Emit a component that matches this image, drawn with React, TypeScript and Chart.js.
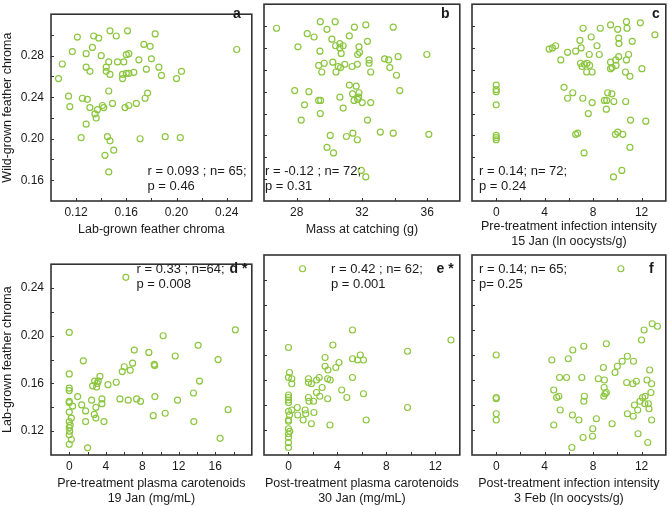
import React, { useEffect, useRef } from 'react';
import { Chart, registerables } from 'chart.js';
Chart.register(...registerables);

// ---------- data ----------
const aX = [0.147,0.161,0.183,0.121,0.134,0.138,0.152,0.174,0.179,0.133,0.117,0.128,0.140,0.160,0.162,0.170,0.180,0.109,0.146,0.153,0.158,0.144,0.128,0.131,0.144,0.147,0.157,0.160,0.162,0.166,0.157,0.176,0.186,0.188,0.200,0.204,0.106,0.114,0.115,0.125,0.129,0.131,0.135,0.136,0.137,0.141,0.142,0.146,0.149,0.159,0.162,0.168,0.175,0.177,0.128,0.124,0.145,0.147,0.171,0.191,0.203,0.150,0.143,0.146,0.248];
const aY = [0.304,0.304,0.301,0.298,0.299,0.297,0.299,0.291,0.289,0.288,0.284,0.282,0.280,0.281,0.282,0.276,0.277,0.272,0.274,0.274,0.274,0.269,0.269,0.265,0.265,0.262,0.262,0.263,0.263,0.264,0.258,0.267,0.269,0.261,0.258,0.265,0.258,0.241,0.231,0.239,0.238,0.230,0.224,0.220,0.228,0.232,0.230,0.246,0.234,0.230,0.232,0.234,0.239,0.244,0.214,0.201,0.202,0.198,0.200,0.202,0.201,0.189,0.184,0.168,0.286];

const bX = [26.77,29.45,30.36,29.86,31.54,32.24,33.92,28.65,29.07,30.16,31.23,32.34,28.08,30.39,30.65,30.85,30.65,31.82,29.43,30.73,31.74,31.86,35.98,34.22,32.44,33.39,33.64,29.35,29.69,30.22,30.55,30.69,30.95,30.41,29.54,31.72,32.44,32.54,33.71,34.12,27.88,28.75,31.23,31.65,31.82,34.32,28.48,29.35,29.47,30.65,31.43,31.52,31.74,31.80,32.02,32.54,30.85,29.45,28.28,32.34,30.06,31.05,31.45,31.72,33.13,33.92,36.10,29.86,30.26,31.96,32.24,31.40];
const bY = [0.298,0.304,0.304,0.297,0.299,0.301,0.299,0.293,0.290,0.288,0.291,0.286,0.281,0.282,0.284,0.282,0.280,0.281,0.277,0.275,0.274,0.276,0.274,0.272,0.269,0.270,0.269,0.264,0.266,0.267,0.263,0.262,0.265,0.258,0.258,0.265,0.266,0.258,0.262,0.255,0.241,0.240,0.246,0.245,0.239,0.241,0.228,0.232,0.232,0.235,0.238,0.232,0.233,0.235,0.230,0.230,0.225,0.220,0.214,0.214,0.200,0.199,0.202,0.196,0.203,0.202,0.201,0.189,0.184,0.168,0.162,0.263];

const cX = [0,0,0,0,0,0,0,7.17,8.59,9.44,10.03,10.75,10.80,11.90,13.10,6.91,7.84,10.11,10.13,11.23,4.37,4.64,4.91,5.89,6.56,7.01,7.68,8.32,8.51,5.33,6.96,7.09,7.28,7.49,7.71,7.47,7.92,9.44,9.87,10.11,9.89,9.57,9.44,10.75,10.93,10.67,11.04,12.03,5.60,6.32,5.89,7.15,7.92,7.60,9.20,9.55,8.93,9.12,9.71,9.09,10.69,11.09,12.35,6.56,6.72,9.84,10.03,10.45,11.04,7.25,10.37,9.68];
const cY = [0.246,0.242,0.240,0.228,0.200,0.198,0.196,0.298,0.298,0.301,0.297,0.304,0.298,0.303,0.292,0.287,0.290,0.289,0.284,0.286,0.279,0.280,0.282,0.276,0.277,0.280,0.274,0.282,0.274,0.269,0.266,0.263,0.265,0.266,0.264,0.258,0.258,0.267,0.269,0.272,0.264,0.262,0.261,0.269,0.274,0.258,0.254,0.261,0.244,0.239,0.234,0.234,0.230,0.220,0.239,0.238,0.232,0.232,0.231,0.224,0.231,0.214,0.213,0.201,0.202,0.201,0.203,0.201,0.189,0.184,0.168,0.162];

const dX = [0,0,0,0,0,0,0.37,0,0.23,0,0.1,0,0,0.23,0,2.01,0.92,1.54,1.36,1.79,1.79,2.45,2.56,2.74,2.92,2.92,2.78,3.0,3.07,3.18,3.36,3.58,3.58,3.80,4.24,5.15,5.55,5.81,6.03,6.68,6.94,7.12,6.46,7.38,7.81,8.72,9.20,9.38,9.31,9.36,10.29,10.51,11.61,11.86,13.61,13.65,14.12,14.27,16.31,16.53,17.41,18.2,6.2,0.05];
const dY = [0.2028,0.168,0.156,0.154,0.145,0.144,0.141,0.136,0.131,0.128,0.125,0.123,0.117,0.113,0.109,0.106,0.149,0.179,0.142,0.137,0.128,0.146,0.158,0.134,0.140,0.131,0.162,0.157,0.160,0.162,0.166,0.147,0.143,0.128,0.159,0.161,0.147,0.170,0.174,0.171,0.177,0.188,0.146,0.147,0.145,0.186,0.133,0.149,0.176,0.175,0.200,0.135,0.183,0.146,0.152,0.128,0.192,0.162,0.180,0.114,0.138,0.205,0.249,0.120];

const eX = [1.15,0,0.08,0,0.27,0.27,0,0,0,0,0.27,0.08,0,0,0,0,0,0,0,0.72,0.75,1.2,1.36,1.41,1.63,1.63,1.87,1.63,1.68,2.05,2.08,1.87,2.29,2.51,2.56,2.75,2.99,2.99,3.23,3.20,3.41,3.20,3.39,3.63,3.87,4.13,4.35,4.77,5.23,5.23,5.23,5.65,5.87,6.13,6.13,6.35,9.73,9.73,13.28,0,0.1,2.3];
const eY = [0.249,0.186,0.166,0.162,0.161,0.157,0.148,0.146,0.144,0.142,0.136,0.132,0.128,0.127,0.121,0.117,0.114,0.110,0.106,0.138,0.132,0.128,0.136,0.133,0.161,0.158,0.157,0.146,0.143,0.143,0.134,0.125,0.150,0.162,0.147,0.154,0.178,0.171,0.168,0.161,0.160,0.145,0.124,0.188,0.170,0.174,0.152,0.146,0.200,0.162,0.177,0.176,0.180,0.176,0.149,0.128,0.183,0.138,0.192,0.135,0.119,0.160];

const fX = [10.29,0,0,0,0,0,12.88,13.31,12.21,12.0,9.09,7.23,6.32,4.59,5.95,10.83,10.40,11.33,10.0,9.81,8.85,12.67,5.23,5.81,7.07,8.43,8.93,10.77,11.28,11.57,12.45,12.83,8.91,4.75,4.99,5.17,7.28,7.23,8.99,9.09,8.88,12.77,5.28,6.29,6.83,8.27,9.57,4.75,10.83,11.31,11.41,11.68,11.87,12.08,12.29,12.27,12.56,12.61,12.83,7.97,7.95,7.17,6.24,11.71,12.51];
const fY = [0.249,0.180,0.146,0.145,0.133,0.128,0.205,0.203,0.200,0.192,0.189,0.187,0.184,0.176,0.177,0.179,0.175,0.175,0.171,0.166,0.170,0.168,0.162,0.162,0.162,0.161,0.160,0.158,0.157,0.159,0.160,0.157,0.154,0.152,0.146,0.147,0.147,0.143,0.149,0.150,0.147,0.150,0.136,0.132,0.128,0.129,0.125,0.124,0.133,0.131,0.140,0.136,0.143,0.146,0.147,0.141,0.141,0.137,0.128,0.121,0.115,0.114,0.106,0.117,0.110];

// ---------- ticks ----------
const topYTicks = [0.16, 0.18, 0.20, 0.22, 0.24, 0.26, 0.28, 0.30];
const topYLabels = [0.16, 0.20, 0.24, 0.28];
const botYTicks = [0.12, 0.14, 0.16, 0.18, 0.20, 0.22, 0.24];
const botYLabels = [0.12, 0.16, 0.20, 0.24];
const aXTicks = [0.12, 0.14, 0.16, 0.18, 0.20, 0.22, 0.24];
const aXLabels = [0.12, 0.16, 0.20, 0.24];
const bXTicks = [28, 30, 32, 34, 36];
const bXLabels = [28, 32, 36];
const lnXTicks = [0, 2, 4, 6, 8, 10, 12];
const lnXLabels = [0, 4, 8, 12];
const dXTicks = [0, 2, 4, 6, 8, 10, 12, 14, 16, 18];
const dXLabels = [0, 4, 8, 12, 16];

// ---------- text ----------
const yTitleTop = 'Wild-grown feather chroma';
const yTitleBot = 'Lab-grown feather chroma';
const xTitles = {
  a: 'Lab-grown feather chroma',
  b: 'Mass at catching (g)',
  c: ['Pre-treatment infection intensity', '15 Jan (ln oocysts/g)'],
  d: ['Pre-treatment plasma carotenoids', '19 Jan (mg/mL)'],
  e: ['Post-treatment plasma carotenoids', '30 Jan (mg/mL)'],
  f: ['Post-treatment infection intensity', '3 Feb (ln oocysts/g)'],
};
const stats = {
  a: ['r = 0.093 ; n= 65;', 'p = 0.46'],
  b: ['r = -0.12 ; n= 72;', 'p = 0.31'],
  c: ['r = 0.14; n= 72;', 'p = 0.24'],
  d: ['r = 0.33 ; n=64;', 'p = 0.008'],
  e: ['r = 0.42 ; n= 62;', 'p = 0.001'],
  f: ['r = 0.14; n= 65;', 'p= 0.25'],
};
const letters = { a: 'a', b: 'b', c: 'c', d: 'd *', e: 'e *', f: 'f' };

const GREEN = '#8cc63f';
const TXT = '#1a1a1a';
const FRAME = '#333333';
const FONT = "'Liberation Sans', Arial, Helvetica, sans-serif";

type P = {
  key: string; cell: number[]; area: number[]; xs: number[]; ys: number[];
  xr: number[]; yr: number[]; xt: number[]; xl: number[]; yt: number[]; yl: number[];
  xd: number; showY: boolean; yTitle: string; xTitle: string | string[]; tPad: number;
  statPos: number[]; letterPos: number[];
};

const panels: P[] = [
  { key: 'a', cell: [0, 0, 256, 250], area: [51, 2, 252, 201], xs: aX, ys: aY, xr: [0.10, 0.26], yr: [0.14, 0.32], xt: aXTicks, xl: aXLabels, yt: topYTicks, yl: topYLabels, xd: 2, showY: true, yTitle: yTitleTop, xTitle: xTitles.a, tPad: 13, statPos: [147.5, 171, 186], letterPos: [233, 14] },
  { key: 'b', cell: [256, 0, 464, 250], area: [260, 2, 460, 201], xs: bX, ys: bY, xr: [26, 38], yr: [0.14, 0.32], xt: bXTicks, xl: bXLabels, yt: topYTicks, yl: topYLabels, xd: 0, showY: false, yTitle: '', xTitle: xTitles.b, tPad: 13, statPos: [265, 171, 186], letterPos: [441, 14] },
  { key: 'c', cell: [464, 0, 670, 250], area: [468, 2, 668, 201], xs: cX, ys: cY, xr: [-2, 14], yr: [0.14, 0.32], xt: lnXTicks, xl: lnXLabels, yt: topYTicks, yl: topYLabels, xd: 0, showY: false, yTitle: '', xTitle: xTitles.c, tPad: 1, statPos: [479, 171, 186], letterPos: [652, 14] },
  { key: 'd', cell: [0, 250, 256, 506], area: [51, 255, 252, 455], xs: dX, ys: dY, xr: [-2, 20], yr: [0.10, 0.26], xt: dXTicks, xl: dXLabels, yt: botYTicks, yl: botYLabels, xd: 0, showY: true, yTitle: yTitleBot, xTitle: xTitles.d, tPad: 0, statPos: [136.5, 269, 284], letterPos: [229.5, 269] },
  { key: 'e', cell: [256, 250, 464, 506], area: [260, 255, 460, 455], xs: eX, ys: eY, xr: [-2, 14], yr: [0.10, 0.26], xt: lnXTicks, xl: lnXLabels, yt: botYTicks, yl: botYLabels, xd: 0, showY: false, yTitle: '', xTitle: xTitles.e, tPad: 0, statPos: [331, 269, 284], letterPos: [436.5, 269] },
  { key: 'f', cell: [464, 250, 670, 506], area: [468, 255, 668, 455], xs: fX, ys: fY, xr: [-2, 14], yr: [0.10, 0.26], xt: lnXTicks, xl: lnXLabels, yt: botYTicks, yl: botYLabels, xd: 0, showY: false, yTitle: '', xTitle: xTitles.f, tPad: 0, statPos: [479, 269, 284], letterPos: [649, 269] },
];

function framePlugin(p: P) {
  return {
    id: 'frame_' + p.key,
    afterDraw(chart: any) {
      const ctx = chart.ctx;
      const ca = chart.chartArea;
      const xs = chart.scales.x;
      const ys = chart.scales.y;
      const ox = p.cell[0], oy = p.cell[1];
      ctx.save();
      ctx.strokeStyle = FRAME;
      ctx.lineWidth = 1;
      ctx.beginPath();
      for (const v of p.xt) {
        const px = Math.round(xs.getPixelForValue(v)) + 0.5;
        ctx.moveTo(px, ca.bottom);
        ctx.lineTo(px, ca.bottom - 3);
      }
      for (const v of p.yt) {
        const py = Math.round(ys.getPixelForValue(v)) + 0.5;
        ctx.moveTo(ca.left, py);
        ctx.lineTo(ca.left + 3, py);
      }
      ctx.stroke();
      ctx.lineWidth = 1.6;
      ctx.strokeRect(ca.left, ca.top, ca.right - ca.left, ca.bottom - ca.top);
      ctx.fillStyle = TXT;
      ctx.textBaseline = 'middle';
      ctx.textAlign = 'left';
      ctx.font = `13px ${FONT}`;
      const st = (stats as any)[p.key];
      ctx.fillText(st[0], p.statPos[0] - ox, p.statPos[1] - oy);
      ctx.fillText(st[1], p.statPos[0] - ox, p.statPos[2] - oy);
      ctx.font = `bold 14px ${FONT}`;
      ctx.fillText((letters as any)[p.key], p.letterPos[0] - ox, p.letterPos[1] - oy);
      ctx.restore();
    },
  };
}

function Panel({ p }: { p: P }) {
  const ref = useRef<HTMLCanvasElement>(null);
  const [cl, ct, cr, cb] = p.cell;
  const [al, at, ar, ab] = p.area;
  const w = cr - cl, h = cb - ct;
  useEffect(() => {
    const canvas = ref.current!;
    const chart = new Chart(canvas, {
      type: 'scatter',
      data: {
        datasets: [{
          data: p.xs.map((x, i) => ({ x, y: p.ys[i] })),
          showLine: false,
          pointRadius: 3,
          pointHoverRadius: 3,
          pointBorderWidth: 1.2,
          borderColor: GREEN,
          backgroundColor: 'rgba(0,0,0,0)',
        }],
      },
      options: {
        responsive: false,
        animation: false,
        events: [],
        layout: { padding: { left: p.showY ? 0 : al - cl, right: cr - ar, top: at - ct, bottom: 0 } },
        plugins: { legend: { display: false }, tooltip: { enabled: false } },
        scales: {
          x: {
            type: 'linear', position: 'bottom', min: p.xr[0], max: p.xr[1],
            afterBuildTicks: (s: any) => { s.ticks = p.xt.map((v) => ({ value: v })); },
            afterFit: (s: any) => { s.height = cb - ab; },
            grid: { display: false, drawTicks: false }, border: { display: false },
            ticks: {
              autoSkip: false, maxRotation: 0, minRotation: 0, padding: 4, color: TXT,
              font: { family: FONT, size: 12 },
              callback: (v: any) => (p.xl.includes(v) ? Number(v).toFixed(p.xd) : ''),
            },
            title: { display: true, text: p.xTitle as any, color: TXT, font: { family: FONT, size: 12.5, lineHeight: 1.2 }, padding: { top: 0, bottom: p.tPad } },
          },
          y: {
            type: 'linear', position: 'left', min: p.yr[0], max: p.yr[1], display: p.showY,
            afterBuildTicks: (s: any) => { s.ticks = p.yt.map((v) => ({ value: v })); },
            afterFit: (s: any) => { s.width = al - cl; },
            grid: { display: false, drawTicks: false }, border: { display: false },
            ticks: {
              autoSkip: false, padding: 7, color: TXT,
              font: { family: FONT, size: 12 },
              callback: (v: any) => (p.yl.includes(v) ? Number(v).toFixed(2) : ''),
            },
            title: { display: p.showY, text: p.yTitle, color: TXT, font: { family: FONT, size: 12.5, lineHeight: 1.2 }, padding: { top: 0.5, bottom: 0 } },
          },
        },
      },
      plugins: [framePlugin(p)],
    } as any);
    return () => chart.destroy();
  }, []);
  return (
    <canvas ref={ref} width={w} height={h}
      style={{ position: 'absolute', left: cl, top: ct, width: w, height: h }} />
  );
}

export default function App() {
  return (
    <div style={{ position: 'absolute', left: 0, top: 0, width: 670, height: 506, background: '#fff' }}>
      {panels.map((p) => <Panel key={p.key} p={p} />)}
    </div>
  );
}
